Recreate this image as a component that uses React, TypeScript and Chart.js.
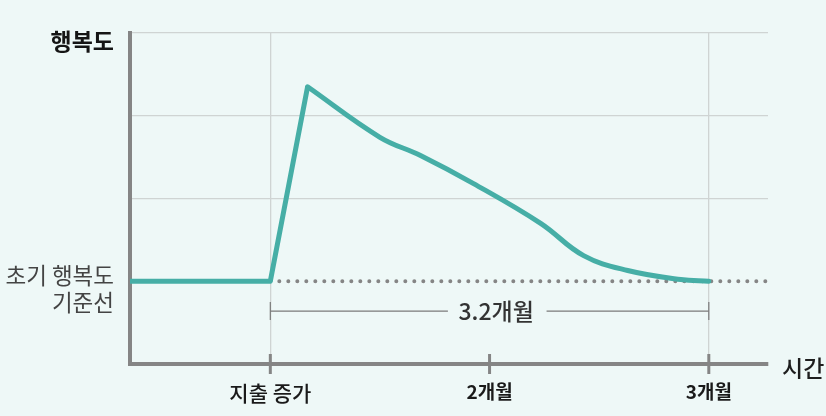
// App.tsx
import React, { useRef, useEffect } from "react";
import Chart from "chart.js/auto";

const FONT = "'Noto Sans CJK KR', 'Noto Sans', sans-serif";

// x axis: 1 = 지출 증가, 2 = 2개월, 3 = 3개월
const xTickValues = [1, 2, 3];
const xTickLabels = ["지출 증가", "2개월", "3개월"];
const xMin = 0.36;
const xMax = 3.27;

// y axis: 1 = 초기 행복도 기준선, 4 = 행복도 (top)
const yTickValues = [0, 1, 2, 3, 4];
const yTickLabels = ["", ["초기 행복도", "기준선"], "", "", "행복도"];

// happiness line: flat, sharp rise, then slow decay back to the baseline
const riseX = [0.36, 1, 1.17];
const riseY = [1, 1, 3.35];
const decayX = [1.17, 1.5, 1.685, 1.927, 2.233, 2.429, 2.63, 2.872, 3];
const decayY = [3.35, 2.74, 2.52, 2.18, 1.7, 1.31, 1.13, 1.02, 1];

// dotted baseline after the spending point
const baseX = [1, 3.27];
const baseY = [1, 1];

// bracket "3.2개월"
const bracketY = 0.64;
const bracketLeftX = [1, 1.81];
const bracketRightX = [2.26, 3];
const bracketLabel = "3.2개월";
const bracketLabelX = 2.03;

const axisTitleX = "시간";

const pts = (xs: number[], ys: number[]) => xs.map((x, i) => ({ x, y: ys[i] }));

const textPlugin = {
  id: "texts",
  afterDatasetsDraw(chart: any) {
    const { ctx, scales, chartArea } = chart;
    const x = scales.x;
    const y = scales.y;
    ctx.save();
    ctx.textBaseline = "middle";
    ctx.textAlign = "center";
    ctx.fillStyle = "#333";
    ctx.font = `500 23px ${FONT}`;
    ctx.fillText(bracketLabel, x.getPixelForValue(bracketLabelX), y.getPixelForValue(bracketY));
    ctx.textAlign = "left";
    ctx.fillStyle = "#1e1e1e";
    ctx.font = `500 23px ${FONT}`;
    ctx.fillText(axisTitleX, chartArea.right + 14, y.getPixelForValue(0) + 4);
    ctx.restore();
  },
};

const App: React.FC = () => {
  const canvasRef = useRef<HTMLCanvasElement | null>(null);
  const chartRef = useRef<Chart | null>(null);

  useEffect(() => {
    if (!canvasRef.current) return;

    chartRef.current = new Chart(canvasRef.current, {
      type: "line",
      data: {
        datasets: [
          {
            data: pts(riseX, riseY),
            borderColor: "#46aea6",
            borderWidth: 5,
            pointRadius: 0,
            tension: 0,
            borderJoinStyle: "round",
            order: 0,
          },
          {
            data: pts(decayX, decayY),
            borderColor: "#46aea6",
            borderWidth: 5,
            pointRadius: 0,
            tension: 0.4,
            borderCapStyle: "round",
            order: 0,
          },
          {
            // tick marks across the x axis
            data: pts(xTickValues, xTickValues.map(() => 0)),
            showLine: false,
            pointStyle: "line",
            rotation: 90,
            pointRadius: 10,
            pointBorderWidth: 3,
            pointBorderColor: "#858585",
            clip: false,
            order: 1,
          },
          {
            data: pts(baseX, baseY),
            borderColor: "#858585",
            borderWidth: 4,
            borderDash: [0, 9],
            borderCapStyle: "round",
            pointRadius: 0,
            order: 2,
          },
          {
            data: pts(bracketLeftX, bracketLeftX.map(() => bracketY)),
            borderColor: "#7a7a7a",
            borderWidth: 1.2,
            pointStyle: "line",
            rotation: 90,
            pointRadius: [9, 0],
            pointBorderWidth: 1.2,
            pointBorderColor: "#7a7a7a",
            order: 3,
          },
          {
            data: pts(bracketRightX, bracketRightX.map(() => bracketY)),
            borderColor: "#7a7a7a",
            borderWidth: 1.2,
            pointStyle: "line",
            rotation: 90,
            pointRadius: [0, 9],
            pointBorderWidth: 1.2,
            pointBorderColor: "#7a7a7a",
            order: 3,
          },
        ],
      },
      options: {
        animation: false,
        maintainAspectRatio: false,
        layout: { padding: { top: 33, right: 58, left: 0, bottom: 0 } },
        plugins: { legend: { display: false }, tooltip: { enabled: false } },
        scales: {
          x: {
            type: "linear",
            min: xMin,
            max: xMax,
            afterBuildTicks: (scale: any) => {
              scale.ticks = xTickValues.map((v) => ({ value: v }));
            },
            afterFit: (scale: any) => {
              scale.height = 52;
            },
            grid: {
              drawTicks: false,
              lineWidth: 1.3,
              color: (c: any) =>
                c.tick && (c.tick.value === 1 || c.tick.value === 3) ? "#cfd4d3" : "rgba(0,0,0,0)",
            },
            border: { color: "#858585", width: 4 },
            ticks: {
              autoSkip: false,
              maxRotation: 0,
              padding: 16,
              color: "#1a1a1a",
              callback: (v: any) => xTickLabels[xTickValues.indexOf(Number(v))],
              font: (c: any) =>
                c.index === 0
                  ? { family: FONT, size: 21, weight: "500" }
                  : { family: FONT, size: 19, weight: "bold" },
            },
          },
          y: {
            type: "linear",
            min: 0,
            max: 4,
            afterBuildTicks: (scale: any) => {
              scale.ticks = yTickValues.map((v) => ({ value: v }));
            },
            afterFit: (scale: any) => {
              scale.width = 130;
            },
            grid: {
              drawTicks: false,
              lineWidth: 1.3,
              color: (c: any) => (c.tick && c.tick.value >= 2 ? "#cfd4d3" : "rgba(0,0,0,0)"),
            },
            border: { color: "#858585", width: 4 },
            ticks: {
              padding: 16,
              labelOffset: 8,
              callback: (v: any) => yTickLabels[yTickValues.indexOf(Number(v))],
              color: (c: any) => (c.tick && c.tick.value === 4 ? "#151515" : "#444"),
              font: (c: any) =>
                c.tick && c.tick.value === 4
                  ? { family: FONT, size: 23, weight: "bold", lineHeight: 1.2 }
                  : { family: FONT, size: 22.5, weight: "normal", lineHeight: 1.2 },
            },
          },
        },
      },
      plugins: [textPlugin],
    });

    return () => chartRef.current?.destroy();
  }, []);

  return (
    <div
      style={{
        position: "fixed",
        left: 0,
        top: 0,
        width: 826,
        height: 416,
        background: "#eef8f7",
      }}
    >
      <canvas ref={canvasRef} style={{ width: "100%", height: "100%" }} />
    </div>
  );
};

export default App;
